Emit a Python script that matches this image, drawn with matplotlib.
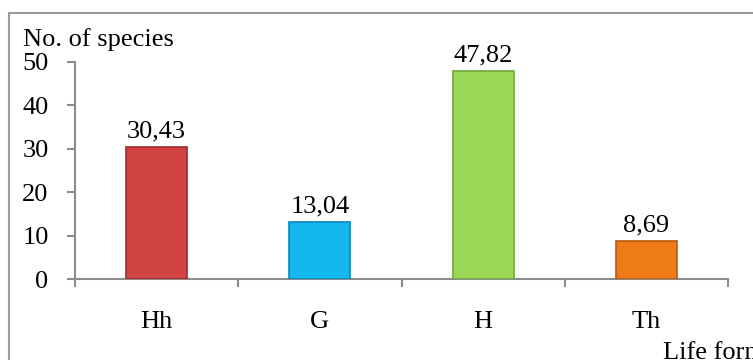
import matplotlib
matplotlib.use("Agg")
import matplotlib.pyplot as plt
from matplotlib.patches import Rectangle
from matplotlib.ticker import FixedLocator

categories = ["Hh", "G", "H", "Th"]
values = [30.43, 13.04, 47.82, 8.69]
value_labels = ["30,43", "13,04", "47,82", "8,69"]
y_ticks = [0, 10, 20, 30, 40, 50]

bar_colors = ["#D24444", "#12B8EE", "#9AD957", "#EE7A18"]
edge_colors = ["#9E2A2A", "#0A86B8", "#6FA83A", "#B85A0E"]

plt.rcParams["font.family"] = ["Liberation Serif", "DejaVu Serif"]
FS = 19

W, H = 753, 360
fig = plt.figure(figsize=(W / 100, H / 100), dpi=100)
ax = fig.add_axes([75 / W, (H - 279) / H, 653 / W, 217 / H])

x = list(range(len(categories)))
bars = ax.bar(x, values, width=0.375, color=bar_colors, edgecolor=edge_colors,
              linewidth=1.2, zorder=3)

for b, lab in zip(bars, value_labels):
    ax.annotate(lab, (b.get_x() + b.get_width() / 2, b.get_height()),
                xytext=(0, 3.5), textcoords="offset points",
                ha="center", va="bottom", fontsize=FS, color="black")

ax.set_xlim(-0.5, len(categories) - 0.5)
ax.set_ylim(0, 50)
ax.set_yticks(y_ticks)
ax.set_yticklabels([str(t) for t in y_ticks], fontsize=FS)
ax.set_xticks(x)
ax.set_xticklabels(categories, fontsize=FS)
ax.xaxis.set_minor_locator(FixedLocator([i - 0.5 for i in range(len(categories) + 1)]))

axis_gray = "#8C8C8C"
for s in ["top", "right"]:
    ax.spines[s].set_visible(False)
for s in ["left", "bottom"]:
    ax.spines[s].set_color(axis_gray)
    ax.spines[s].set_linewidth(1.5)

ax.tick_params(axis="y", direction="out", length=6, width=1.5, color=axis_gray, pad=13)
ax.tick_params(axis="x", which="major", length=0, pad=23)
ax.tick_params(axis="x", which="minor", direction="out", length=6, width=1.5, color=axis_gray)

fig.text(23 / W, (H - 46) / H, "No. of species", fontsize=FS, ha="left", va="baseline")
fig.text(663 / W, (H - 359) / H, "Life forms", fontsize=FS, ha="left", va="baseline")

border = Rectangle((9 / W, -0.1), 1.2, (H - 12.5) / H + 0.1, transform=fig.transFigure,
                   fill=False, edgecolor="#9A9A9A", linewidth=1.5, clip_on=False)
fig.patches.append(border)

fig.savefig("out.png", dpi=100)
